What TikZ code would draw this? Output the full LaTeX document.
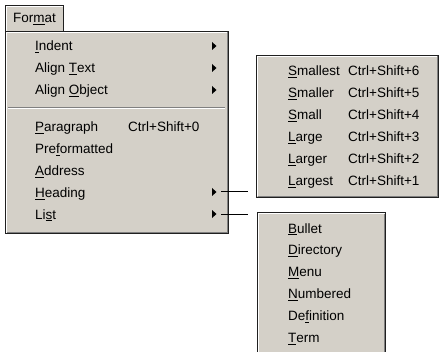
\documentclass[tikz,border=0pt]{standalone}
\usepackage{fontspec}
\setmainfont{Liberation Sans}
\definecolor{menugray}{HTML}{D4D0C8}
\definecolor{edgedark}{HTML}{202020}
\definecolor{shadegray}{HTML}{808080}
\newcommand\ak[1]{\setbox0=\hbox{#1}\rlap{\rule[-2.4pt]{\wd0}{1pt}}\box0}
\begin{document}
\begin{tikzpicture}[x=1pt,y=-1pt,
  menubox/.style={draw=edgedark, fill=menugray, line width=1pt, inner sep=0pt, anchor=north west},
  item/.style={anchor=base west, inner sep=0pt, font=\fontsize{13.5}{16}\selectfont},
  link/.style={draw=black, line width=1pt},
  hilite/.style={draw=white, line width=1pt},
  lowlite/.style={draw=shadegray, line width=1pt}
]
\useasboundingbox (0,0) rectangle (443,352);
\path[clip] (0,0) rectangle (443,352);
\fill[white] (0,0) rectangle (443,352);

% Tab
\node[menubox, minimum width=58pt, minimum height=27pt] (tab) at (5,5) {};
\draw[hilite] ([shift={(1.5,-1)}]tab.south west) -- ([shift={(1.5,1.5)}]tab.north west) -- ([shift={(-1.5,1.5)}]tab.north east);
\node[item] (tabtxt) at (13,23) {For\ak{m}at};

% Main menu
\node[menubox, minimum width=223pt, minimum height=202pt] (main) at (5,31) {};
\draw[hilite] ([shift={(1.5,-1.5)}]main.south west) -- ([shift={(1.5,1.5)}]main.north west) -- ([shift={(-1.5,1.5)}]main.north east);
\draw[lowlite] ([shift={(-1.5,1.5)}]main.north east) -- ([shift={(-1.5,-1.5)}]main.south east) -- ([shift={(1.5,-1.5)}]main.south west);
\draw[lowlite] (8,107.5) -- (225,107.5);
\draw[hilite] (8,108.5) -- (225,108.5);

\node[item] (m1) at (35,51) {\ak{I}ndent};
\node[item] (m2) at (35,72.75) {Align \ak{T}ext};
\node[item] (m3) at (35,94.5) {Align \ak{O}bject};
\node[item] (m4) at (35,132) {\ak{P}aragraph};
\node[item] (m4k) at (128,132) {Ctrl+Shift+0};
\node[item] (m5) at (35,153.75) {Pre\ak{f}ormatted};
\node[item] (m6) at (35,175.5) {\ak{A}ddress};
\node[item] (m7) at (35,197.25) {\ak{H}eading};
\node[item] (m8) at (35,219) {Li\ak{s}t};

\foreach \cy in {46,68,90,192,214}
  \fill[black] (212,\cy-4) -- (216.5,\cy) -- (212,\cy+4) -- cycle;

% Heading submenu
\node[menubox, minimum width=182pt, minimum height=142pt] (head) at (256,55) {};
\draw[hilite] ([shift={(1.5,-1.5)}]head.south west) -- ([shift={(1.5,1.5)}]head.north west) -- ([shift={(-1.5,1.5)}]head.north east);
\draw[lowlite] ([shift={(-1.5,1.5)}]head.north east) -- ([shift={(-1.5,-1.5)}]head.south east) -- ([shift={(1.5,-1.5)}]head.south west);
\node[item] (h1) at (288,75.5) {\ak{S}mallest};
\node[item] (h1k) at (348,75.5) {Ctrl+Shift+6};
\node[item] (h2) at (288,97.5) {\ak{S}maller};
\node[item] (h2k) at (348,97.5) {Ctrl+Shift+5};
\node[item] (h3) at (288,119.5) {\ak{S}mall};
\node[item] (h3k) at (348,119.5) {Ctrl+Shift+4};
\node[item] (h4) at (288,141.5) {\ak{L}arge};
\node[item] (h4k) at (348,141.5) {Ctrl+Shift+3};
\node[item] (h5) at (288,163.5) {\ak{L}arger};
\node[item] (h5k) at (348,163.5) {Ctrl+Shift+2};
\node[item] (h6) at (288,185.5) {\ak{L}argest};
\node[item] (h6k) at (348,185.5) {Ctrl+Shift+1};

% List submenu
\node[menubox, minimum width=128pt, minimum height=150pt] (lst) at (257,212) {};
\draw[hilite] ([shift={(1.5,-1.5)}]lst.south west) -- ([shift={(1.5,1.5)}]lst.north west) -- ([shift={(-1.5,1.5)}]lst.north east);
\draw[lowlite] ([shift={(-1.5,1.5)}]lst.north east) -- ([shift={(-1.5,-1.5)}]lst.south east);
\node[item] (l1) at (288,233) {\ak{B}ullet};
\node[item] (l2) at (288,254.9) {\ak{D}irectory};
\node[item] (l3) at (288,276.8) {\ak{M}enu};
\node[item] (l4) at (288,298.7) {\ak{N}umbered};
\node[item] (l5) at (288,320.6) {De\ak{f}inition};
\node[item] (l6) at (288,342.5) {\ak{T}erm};

% Connectors
\coordinate (hs) at (221,192);
\coordinate (he) at (248,192);
\coordinate (ls) at (221,214);
\coordinate (le) at (248,214);
\draw[link] (hs) -- (he);
\draw[link] (ls) -- (le);
\end{tikzpicture}
\end{document}
